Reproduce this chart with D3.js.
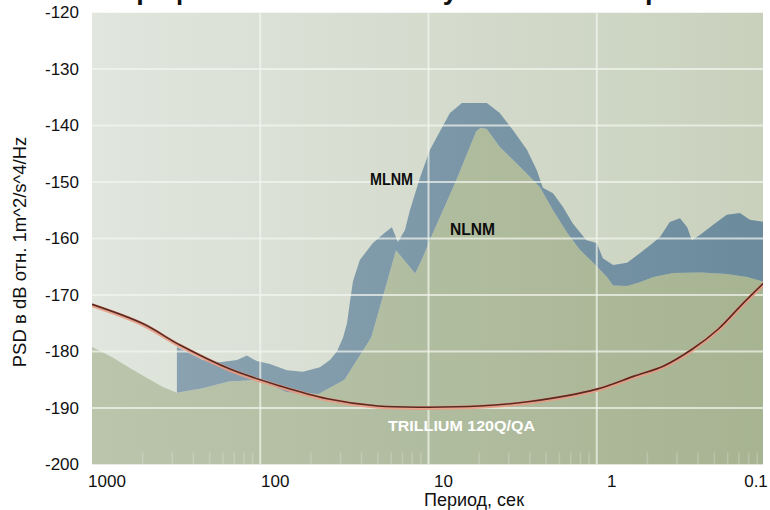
<!DOCTYPE html>
<html><head><meta charset="utf-8">
<script src="https://cdn.jsdelivr.net/npm/d3@7"></script>
<style>
html,body{margin:0;padding:0;background:#fff;}
svg{display:block;font-family:"Liberation Sans",Arial,sans-serif;}
</style></head>
<body>
<svg id="chart" width="770" height="510"></svg>
<script>
// ---- data ----
const titleText = "График собственного шума сейсмометра";
const yTitle = "PSD в dB отн. 1m^2/s^4/Hz";
const xTitle = "Период, сек";
const yTicks = [-120,-130,-140,-150,-160,-170,-180,-190,-200];
const xTicks = [1000,100,10,1,0.1];
const xTickLabels = ["1000","100","10","1","0.1"];

// NLNM (lower model, top of green area): period (s), dB
const nlnmPeriod = [1000,870,750,595,471,379,313,220,154,101,70,45,31.6,21.9,15.6,12,10.8,9.4,8.2,6.8,5.9,5.2,4.9,4.5,3.77,2.86,2.18,1.82,1.5,1.26,1.05,0.87,0.8,0.66,0.56,0.46,0.35,0.24,0.17,0.128,0.1];
const nlnmValue  = [-179.2,-180.1,-181.1,-182.9,-184.7,-186.3,-187.3,-186.5,-185.3,-185,-187.2,-187.5,-185,-177.5,-162.1,-166.2,-163.3,-159,-155,-149.5,-145,-141,-140.4,-140.6,-143.8,-147.3,-150.9,-155,-159,-162,-164.3,-166.8,-168.3,-168.4,-167.8,-166.8,-166.1,-166,-166.3,-166.8,-167.7];

// MLNM (upper edge of blue band)
const mlnmPeriod = [313,219,174,137.5,120,105,87.6,69.4,55.8,44.2,38.5,35,32.2,30.5,29.4,28.1,25.6,21.4,18.2,16.5,15.2,13.8,12.9,11.2,9.8,8.9,7.46,6.33,4.5,3.77,3.15,2.6,2.27,2.09,1.82,1.59,1.39,1.26,1.15,1.0,0.92,0.8,0.66,0.555,0.464,0.42,0.368,0.32,0.29,0.272,0.244,0.204,0.169,0.141,0.123,0.1];
const mlnmValue  = [-179.2,-181.5,-181.9,-181.5,-180.7,-181.7,-182.2,-183.3,-183.6,-182.8,-181.5,-180,-177.5,-175,-171.5,-167.5,-163.8,-160.8,-159,-158,-160.6,-158.5,-155,-149.1,-144.3,-142,-137.8,-136,-136,-137.8,-140.8,-144.3,-147.9,-151,-152,-154.4,-157.3,-158.9,-160.3,-160.8,-163.5,-164.7,-164.3,-162.6,-160.8,-159.7,-157.1,-156.4,-158,-160.3,-159.4,-157.6,-155.8,-155.5,-156.7,-157.1];

// Trillium 120Q/QA self-noise
const trilPeriod = [1000,500,300,150,75,40,20,10,5,2.5,1,0.6,0.4,0.27,0.19,0.14,0.1];
const trilValue  = [-171.8,-175.2,-179,-183.3,-186.3,-188.5,-189.8,-190,-189.8,-189,-186.8,-184.5,-182.7,-179.7,-176.2,-172.1,-167.8];

// ---- chart ----
const svg = d3.select("#chart");
const x = d3.scaleLog().domain([1000,0.1]).range([92,765]);
const y = d3.scaleLinear().domain([-200,-120]).range([464.5,12.5]);
const px0 = 92, px1 = 763, py0 = y(-120), py1 = y(-200);

const defs = svg.append("defs");
const g1 = defs.append("linearGradient").attr("id","bg").attr("x1","0").attr("x2","1").attr("y1","0").attr("y2","0");
g1.append("stop").attr("offset","0").attr("stop-color","#e1e6de");
g1.append("stop").attr("offset","1").attr("stop-color","#c9d1bd");
const g2 = defs.append("linearGradient").attr("id","gr").attr("x1","0").attr("x2","1").attr("y1","0").attr("y2","0");
g2.append("stop").attr("offset","0").attr("stop-color","#bac5ac");
g2.append("stop").attr("offset","1").attr("stop-color","#a7b492");
const g3 = defs.append("linearGradient").attr("id","bl").attr("x1","0").attr("x2","1").attr("y1","0").attr("y2","0");
g3.append("stop").attr("offset","0").attr("stop-color","#8aa2b0");
g3.append("stop").attr("offset","1").attr("stop-color","#6b8b9d");
defs.append("clipPath").attr("id","clip").append("rect")
  .attr("x",px0).attr("y",py0).attr("width",px1-px0).attr("height",py1-py0);

const plot = svg.append("g").attr("clip-path","url(#clip)");
plot.append("rect").attr("x",px0).attr("y",py0).attr("width",px1-px0).attr("height",py1-py0).attr("fill","url(#bg)");

const nlnm = nlnmPeriod.map((p,i)=>[p,nlnmValue[i]]);
const mlnm = mlnmPeriod.map((p,i)=>[p,mlnmValue[i]]);
const tril = trilPeriod.map((p,i)=>[p,trilValue[i]]);

// green area below NLNM
plot.append("path").datum(nlnm)
  .attr("d", d3.area().x(d=>x(d[0])).y0(y(-200)).y1(d=>y(d[1])).curve(d3.curveLinear))
  .attr("fill","url(#gr)");

// blue band between NLNM (bottom) and MLNM (top)
const startP = mlnmPeriod[0];
const lowerPart = nlnm.filter(d=>d[0] <= startP);
const band = mlnm.concat(lowerPart.slice().reverse());
plot.append("path")
  .attr("d", d3.line().x(d=>x(d[0])).y(d=>y(d[1]))(band) + "Z")
  .attr("fill","url(#bl)");

// grid
const gridY = yTicks.filter(v=>v>-200 && v<-120);
plot.selectAll("line.gy").data(gridY).join("line")
  .attr("x1",px0).attr("x2",px1).attr("y1",d=>y(d)).attr("y2",d=>y(d))
  .attr("stroke","#f4f6ef").attr("stroke-opacity",0.7).attr("stroke-width",2);
plot.selectAll("line.gx").data(xTicks.filter(v=>v<1000 && v>0.1)).join("line")
  .attr("x1",d=>x(d)).attr("x2",d=>x(d)).attr("y1",py0).attr("y2",py1)
  .attr("stroke","#f4f6ef").attr("stroke-opacity",0.7).attr("stroke-width",2);
// faint minor ticks at bottom
const minor = [];
[1000,100,10,1].forEach(dec=>{ for(let k=2;k<10;k++) minor.push(dec/k); });
plot.selectAll("line.mn").data(minor).join("line")
  .attr("x1",d=>x(d)).attr("x2",d=>x(d)).attr("y1",py1-12).attr("y2",py1)
  .attr("stroke","#ffffff").attr("stroke-opacity",0.2).attr("stroke-width",1.5);

// Trillium curve
const tl = d3.line().x(d=>x(d[0])).y(d=>y(d[1])).curve(d3.curveCatmullRom);
plot.append("path").datum(tril).attr("d",tl).attr("fill","none")
  .attr("stroke","#e89b84").attr("stroke-width",4).attr("stroke-opacity",0.9);
plot.append("path").datum(tril).attr("d",tl).attr("fill","none")
  .attr("stroke","#5a2a22").attr("stroke-width",1.6).attr("transform","translate(0,-0.8)");

// labels in plot
plot.append("text").attr("x",370).attr("y",185).attr("font-weight","bold").attr("font-size",16)
  .attr("textLength",43).attr("lengthAdjust","spacingAndGlyphs").attr("fill","#0d0d0d").text("MLNM");
plot.append("text").attr("x",450).attr("y",235).attr("font-weight","bold").attr("font-size",16)
  .attr("textLength",45).attr("lengthAdjust","spacingAndGlyphs").attr("fill","#0d0d0d").text("NLNM");
plot.append("text").attr("x",388).attr("y",431).attr("font-weight","bold").attr("font-size",15)
  .attr("textLength",147).attr("lengthAdjust","spacingAndGlyphs").attr("fill","#ffffff").text("TRILLIUM 120Q/QA");

// axis labels
svg.selectAll("text.yt").data(yTicks).join("text")
  .attr("x",79).attr("y",d=>y(d)).attr("dy","0.35em").attr("text-anchor","end")
  .attr("font-size",17).attr("fill","#111").text(d=>d);
svg.selectAll("text.xt").data(xTicks).join("text")
  .attr("x",d=>Math.min(x(d)+15,756)).attr("y",487).attr("text-anchor","middle")
  .attr("font-size",17).attr("fill","#111").text((d,i)=>xTickLabels[i]);

svg.append("text").attr("x",474).attr("y",506).attr("text-anchor","middle")
  .attr("font-size",18).attr("fill","#111").text(xTitle);
svg.append("text").attr("transform","translate(26,252) rotate(-90)").attr("text-anchor","middle")
  .attr("font-size",18.5).attr("fill","#111").text(yTitle);

// title (cut at top edge, as in the reference)
svg.append("text").attr("x",122).attr("y",-1).attr("font-weight","bold").attr("font-size",27)
  .attr("fill","#111").text(titleText);
</script>
</body></html>
